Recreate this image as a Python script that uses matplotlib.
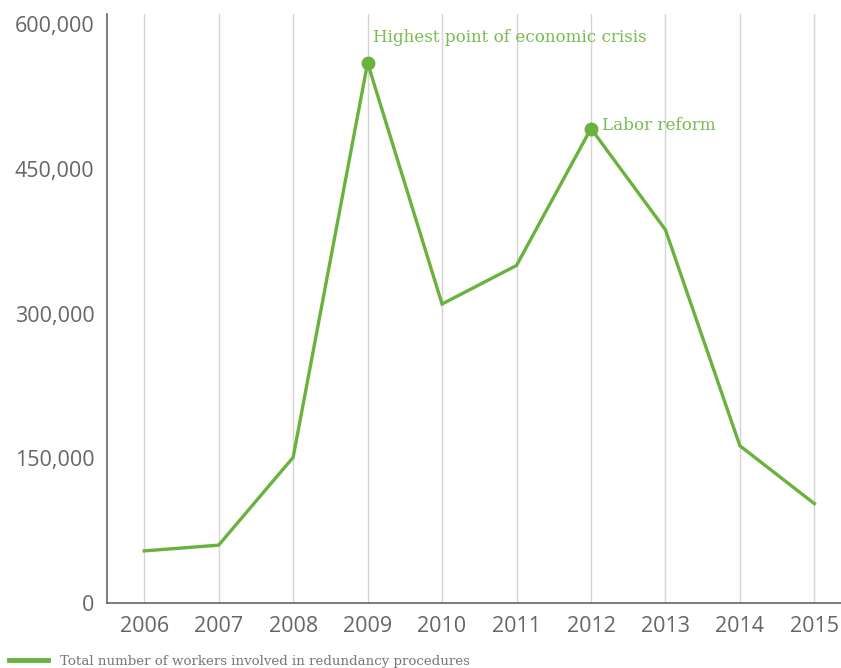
import numpy as np
import matplotlib.pyplot as plt
from matplotlib.lines import Line2D

years = [2006, 2007, 2008, 2009, 2010, 2011, 2012, 2013, 2014, 2015]
workers = [54000, 60000, 151000, 560000, 310000, 350000, 492000, 387000, 163000, 103000]
y_ticks = [0, 150000, 300000, 450000, 600000]
y_tick_labels = ['0', '150,000', '300,000', '450,000', '600,000']

notes = [(2009, 560000, 'Highest point of economic crisis', (5, 25)),
         (2012, 492000, 'Labor reform', (11, 3))]
legend_label = 'Total number of workers involved in redundancy procedures'

green = '#6ab23e'
text_green = '#78bb4e'
gray = '#666666'

fig = plt.figure(figsize=(8.41, 6.68), dpi=100)
ax = fig.add_axes([0.1272, 0.0973, 0.8854, 0.8817])

ax.plot(years, workers, color=green, lw=2.4, solid_joinstyle='miter', zorder=3)
for x, y, label, off in notes:
    ax.plot([x], [y], 'o', color=green, ms=9, zorder=4)
    ax.annotate(label, (x, y), xytext=off, textcoords='offset pixels',
                color=text_green, fontsize=12.1, family='DejaVu Serif',
                ha='left', va='center')

ax.set_xlim(2005.5, 2015.5)
ax.set_ylim(0, 610700)
ax.set_xticks(years)
ax.set_xticklabels([str(y) for y in years])
ax.set_yticks(y_ticks)
ax.set_yticklabels(y_tick_labels)
ax.tick_params(length=0, labelsize=15.5, labelcolor=gray)
ax.tick_params(axis='y', pad=9)
ax.tick_params(axis='x', pad=9)
for lbl in ax.get_xticklabels() + ax.get_yticklabels():
    lbl.set_family('Open Sans')

ax.grid(axis='x', color='#d4d4d4', lw=1)
ax.set_axisbelow(True)
for side in ['top', 'right']:
    ax.spines[side].set_visible(False)
for side in ['left', 'bottom']:
    ax.spines[side].set_color(gray)
    ax.spines[side].set_linewidth(1.2)

# legend sits at the very bottom edge of the figure
handle = Line2D([], [], color=green, lw=3.5)
leg = fig.legend([handle], [legend_label], loc='center left',
                 bbox_to_anchor=(-0.003, 0.01), frameon=False,
                 handlelength=2.9, handletextpad=0.9,
                 prop={'family': 'DejaVu Serif', 'size': 9.6})
for t in leg.get_texts():
    t.set_color('#777777')

fig.savefig('out.png', dpi=100)
